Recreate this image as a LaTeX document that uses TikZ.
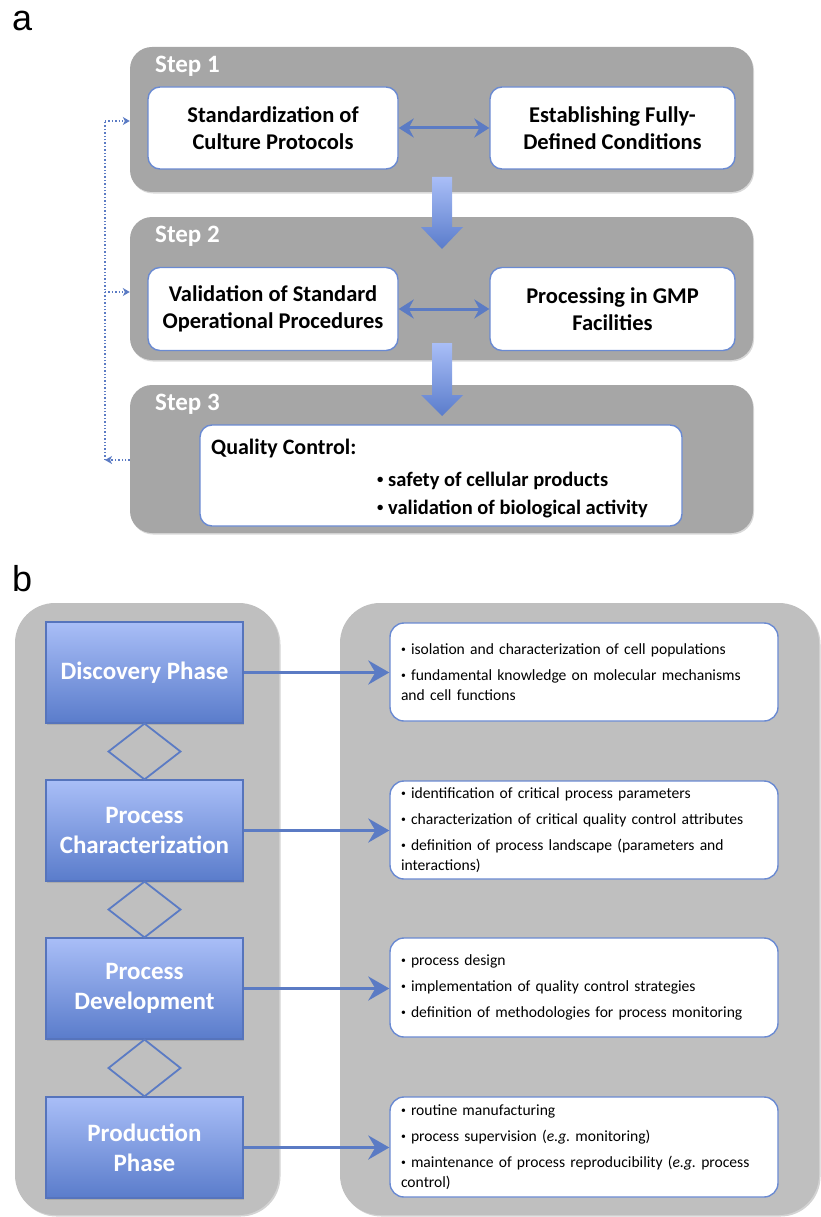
\documentclass[tikz,border=0pt]{standalone}
\usepackage{fontspec}
\setmainfont{Carlito}
\newfontfamily\labfont{Liberation Sans}
\usetikzlibrary{arrows.meta,calc,shadows}
\definecolor{stepgray}{HTML}{A6A6A6}
\definecolor{lgray}{HTML}{BFBFBF}
\definecolor{bline}{HTML}{5B7BC4}
\definecolor{bborder}{HTML}{6A8AD2}
\definecolor{btop}{HTML}{A9BEF7}
\definecolor{bbot}{HTML}{5A7CCB}
\definecolor{dborder}{HTML}{5674BC}
\newcommand\sbul{\raisebox{0.13em}{\scalebox{0.62}{•}}}
\frenchspacing
\begin{document}
\begin{tikzpicture}[x=1pt,y=-1pt,
  panellab/.style={font=\labfont\fontsize{36}{36}\selectfont, anchor=base west, inner sep=0pt},
  stepbox/.style={fill=stepgray, rounded corners=22pt, minimum width=623pt, inner sep=0pt,
     drop shadow={shadow xshift=1pt, shadow yshift=-1.5pt, opacity=0.3}},
  steplab/.style={text=white, font=\bfseries\fontsize{25}{25}\selectfont, anchor=west, inner sep=0pt},
  wbox/.style={draw=bborder, line width=1.4pt, fill=white, rounded corners=12pt,
     minimum height=82pt, align=center, font=\bfseries\fontsize{22.5}{27}\selectfont, inner sep=0pt},
  qctext/.style={font=\bfseries\fontsize{22}{22}\selectfont, anchor=west, inner sep=0pt},
  qcitem/.style={font=\bfseries\fontsize{20.5}{20.5}\selectfont, anchor=west, inner sep=0pt},
  dblarrow/.style={draw=bline, line width=3pt, {Stealth[length=15pt,width=19pt,inset=5pt]}-{Stealth[length=15pt,width=19pt,inset=5pt]}},
  bigarrow/.style={top color=btop, bottom color=bbot, draw=none},
  fb/.style={draw=bline, line width=1.4pt, dotted},
  fbtip/.style={-{Stealth[length=7pt,width=8pt,inset=2pt]}},
  lgbox/.style={fill=lgray, rounded corners=40pt, inner sep=0pt,
     drop shadow={shadow xshift=1.5pt, shadow yshift=-1.5pt, opacity=0.35}},
  phase/.style={draw=dborder, line width=1.2pt, top color=btop, bottom color=bbot,
     minimum width=197pt, minimum height=101pt, inner sep=0pt, align=center,
     text=white, font=\bfseries\fontsize{25}{30}\selectfont,
     drop shadow={shadow xshift=1pt, shadow yshift=-1.5pt, opacity=0.3}},
  rbox/.style={draw=bborder, line width=1.4pt, fill=white, rounded corners=14pt,
     text width=366pt, inner xsep=11pt, inner ysep=0pt, align=left,
     font=\fontsize{15.6}{20}\selectfont},
  dia/.style={draw=bline, line width=1.8pt},
  barrow/.style={draw=bline, line width=3.5pt, -{Stealth[length=21pt,width=24pt,inset=7pt]}}
]
\useasboundingbox (0,0) rectangle (821,1217);

% ---------------- panel a ----------------
\node[panellab] (la) at (12,31) {a};

\node[stepbox, minimum height=145pt] (step1) at (441.5,119.5) {};
\node[stepbox, minimum height=143pt] (step2) at (441.5,288.5) {};
\node[stepbox, minimum height=148pt] (step3) at (441.5,459) {};

\node[steplab] (s1) at (155,66) {Step 1};
\node[steplab] (s2) at (155,236) {Step 2};
\node[steplab] (s3) at (155,404) {Step 3};

\node[wbox, minimum width=250pt] (a1) at (273,128) {Standardization of\\Culture Protocols};
\node[wbox, minimum width=245pt] (a2) at (612.5,128) {Establishing Fully-\\Defined Conditions};
\node[wbox, minimum width=250pt, minimum height=83pt] (b1) at (273,309) {Validation of Standard\\Operational Procedures};
\node[wbox, minimum width=245pt, minimum height=83pt] (b2) at (612.5,309) {Processing in GMP\\Facilities};

\draw[dblarrow] (a1.east) -- (a2.west);
\draw[dblarrow] (b1.east) -- (b2.west);

\shade[bigarrow] (432,177) -- (452,177) -- (452,227) -- (463,227) -- (442,249) -- (421,227) -- (432,227) -- cycle;
\shade[bigarrow] (432,343) -- (452,343) -- (452,395) -- (463,395) -- (442,416) -- (421,395) -- (432,395) -- cycle;

\node[draw=bborder, line width=1.4pt, fill=white, rounded corners=12pt,
      minimum width=482pt, minimum height=101pt, inner sep=0pt] (qc) at (441,475.5) {};
\node[qctext] (qct) at (211,449) {Quality Control:};
\node[qcitem] (qc1) at (377,481) {\sbul\ safety of cellular products};
\node[qcitem] (qc2) at (377,509) {\sbul\ validation of biological activity};

\coordinate (c1) at (105,121);
\coordinate (c2) at (105,292);
\coordinate (c3) at (105,460);
\draw[fb, fbtip] (step3.west |- c3) -- (c3);
\draw[fb] (c3) -- (c1);
\draw[fb, fbtip] (c1) -- (step1.west |- c1);
\draw[fb, fbtip] (c2) -- (step2.west |- c2);

% ---------------- panel b ----------------
\node[panellab] (lbl) at (12,591) {b};

\node[lgbox, minimum width=264pt, minimum height=612pt] (left) at (147,909) {};
\node[lgbox, minimum width=479pt, minimum height=612pt] (right) at (579.5,909) {};

\node[phase] (p1) at (144.5,672.5) {Discovery Phase};
\node[phase] (p2) at (144.5,830.5) {Process\\Characterization};
\node[phase] (p3) at (144.5,988.5) {Process\\Development};
\node[phase] (p4) at (144.5,1147.5) {Production\\Phase};

\foreach \u/\v in {p1/p2,p2/p3,p3/p4}{
  \draw[dia] (\u.south) -- ($(\u.south)!.5!(\v.north)+(36,0)$) -- (\v.north)
     -- ($(\u.south)!.5!(\v.north)+(-36,0)$) -- cycle;
}

\node[rbox, minimum height=98pt] (r1) at (584,672) {\sbul\ isolation and characterization of cell populations\\[6pt]
\sbul\ fundamental knowledge on molecular mechanisms\\and cell functions};
\node[rbox, minimum height=98pt] (r2) at (584,830) {\sbul\ identification of critical process parameters\\[6pt]
\sbul\ characterization of critical quality control attributes\\[6pt]
\sbul\ definition of process landscape (parameters and\\interactions)};
\node[rbox, minimum height=99pt] (r3) at (584,987.5) {\sbul\ process design\\[6pt]
\sbul\ implementation of quality control strategies\\[6pt]
\sbul\ definition of methodologies for process monitoring};
\node[rbox, minimum height=100pt] (r4) at (584,1147) {\sbul\ routine manufacturing\\[6pt]
\sbul\ process supervision (\textit{e.g.} monitoring)\\[6pt]
\sbul\ maintenance of process reproducibility (\textit{e.g.} process\\control)};

\draw[barrow] (p1.east) -- (r1.west |- p1.east);
\draw[barrow] (p2.east) -- (r2.west |- p2.east);
\draw[barrow] (p3.east) -- (r3.west |- p3.east);
\draw[barrow] (p4.east) -- (r4.west |- p4.east);
\end{tikzpicture}
\end{document}
